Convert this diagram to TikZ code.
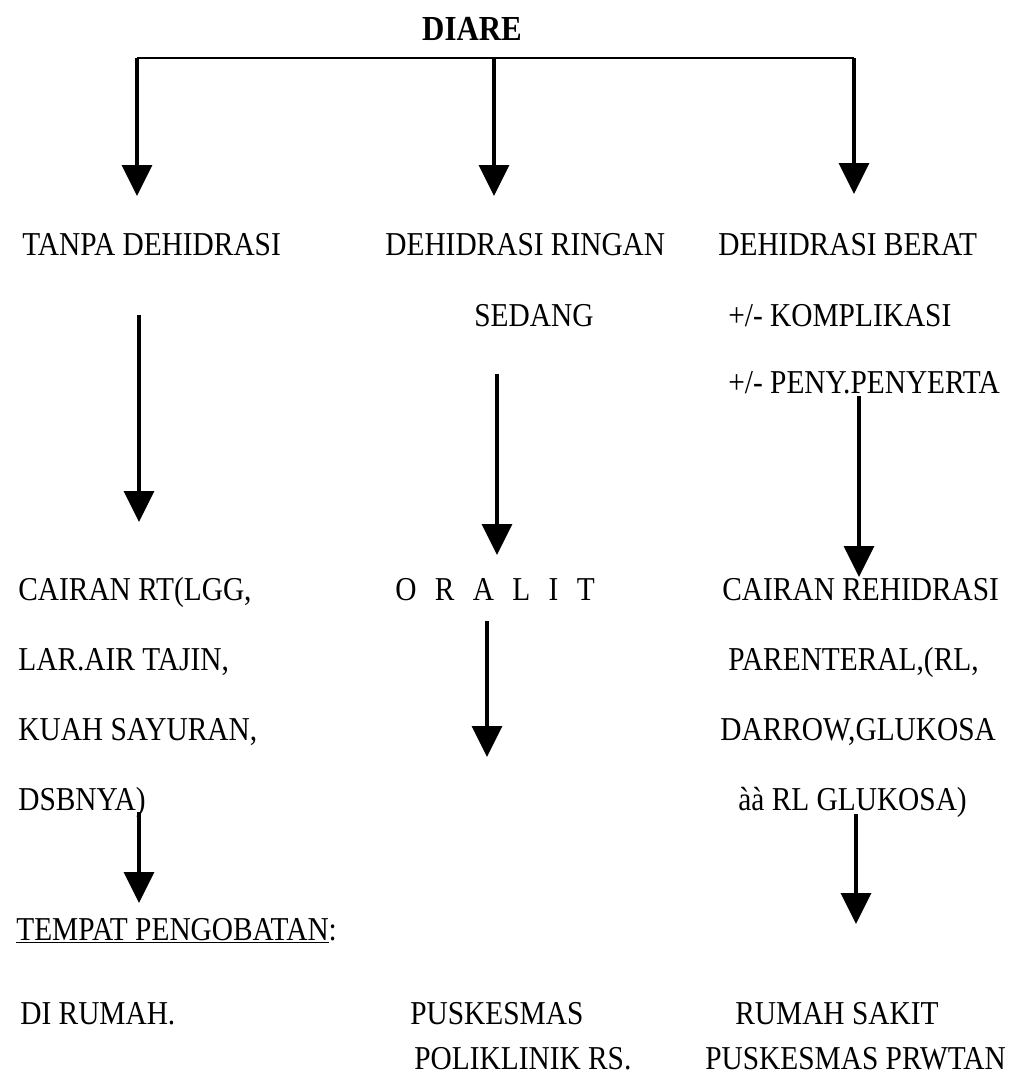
\documentclass[tikz,border=0pt]{standalone}
\usepackage{fontspec}
\setmainfont[FakeStretch=0.88]{Liberation Serif}
\usetikzlibrary{arrows.meta}

\begin{document}
\begin{tikzpicture}[x=0.02cm, y=-0.02cm,
  txt/.style={anchor=base west, inner sep=0pt, font=\fontsize{19}{22}\selectfont},
  arrow/.style={-{Triangle[length=0.62cm, width=0.6cm]}, line width=1.8pt},
  trunk/.style={line width=1.6pt}
]
\useasboundingbox (0,0) rectangle (1010,1078);

%% ---- ROOT ----
\node[txt, anchor=base, font=\fontsize{20}{22}\selectfont\bfseries] at (472,41) (diare) {DIARE};
\coordinate (tl) at (137,58);
\coordinate (tm) at (494,58);
\coordinate (tr) at (854,58);
\coordinate (hl) at (137,196);
\coordinate (hm) at (494,196);
\coordinate (hr) at (854,194);

%% ---- LEFT COLUMN ----
\node[txt] at (22,255)  (tanpa)    {TANPA DEHIDRASI};
\node[txt] at (18,600)  (cairanrt) {CAIRAN RT(LGG,};
\node[txt] at (18,670)  (lar)      {LAR.AIR TAJIN,};
\node[txt] at (18,740)  (kuah)     {KUAH SAYURAN,};
\node[txt] at (18,810)  (dsb)      {DSBNYA)};
\node[txt] at (16,940)  (tempat)   {\underline{TEMPAT PENGOBATAN}:};
\node[txt] at (20,1024) (rumah)    {DI RUMAH.};

%% ---- CENTRE COLUMN ----
\node[txt] at (385,255)  (ringan) {DEHIDRASI RINGAN};
\node[txt] at (474,326)  (sedang) {SEDANG};
\node[txt] at (395,600)  (oralit) {O\hspace{0.55em}R\hspace{0.55em}A\hspace{0.55em}L\hspace{0.55em}I\hspace{0.55em}T};
\node[txt] at (410,1024) (pusk)   {PUSKESMAS};
\node[txt] at (414,1069) (polik)  {POLIKLINIK RS.};

%% ---- RIGHT COLUMN ----
\node[txt] at (718,255)  (berat)     {DEHIDRASI BERAT};
\node[txt] at (728,326)  (kompl)     {+/- KOMPLIKASI};
\node[txt] at (728,393)  (peny)      {+/- PENY.PENYERTA};
\node[txt] at (722,600)  (cairanreh) {CAIRAN REHIDRASI};
\node[txt] at (728,670)  (parent)    {PARENTERAL,(RL,};
\node[txt] at (720,740)  (darrow)    {DARROW,GLUKOSA};
\node[txt] at (738,810)  (aa)        {àà RL GLUKOSA)};
\node[txt] at (735,1024) (rs)        {RUMAH SAKIT};
\node[txt] at (705,1069) (puskrw)    {PUSKESMAS PRWTAN};

%% ---- Arrow ends ----
\coordinate (l1s) at (139,315);  \coordinate (l1e) at (139,522);
\coordinate (l2s) at (139,812);  \coordinate (l2e) at (139,903);
\coordinate (m1s) at (497,374);  \coordinate (m1e) at (497,555);
\coordinate (m2s) at (487,621);  \coordinate (m2e) at (487,757);
\coordinate (r1s) at (859,396);  \coordinate (r1e) at (859,577);
\coordinate (r2s) at (856,814);  \coordinate (r2e) at (856,924);

%% ---- Arrows ----
\draw[trunk] (tl) -- (tr);
\draw[arrow] (tl) -- (hl);
\draw[arrow] (tm) -- (hm);
\draw[arrow] (tr) -- (hr);
\draw[arrow] (l1s) -- (l1e);
\draw[arrow] (l2s) -- (l2e);
\draw[arrow] (m1s) -- (m1e);
\draw[arrow] (m2s) -- (m2e);
\draw[arrow] (r1s) -- (r1e);
\draw[arrow] (r2s) -- (r2e);
\end{tikzpicture}
\end{document}
